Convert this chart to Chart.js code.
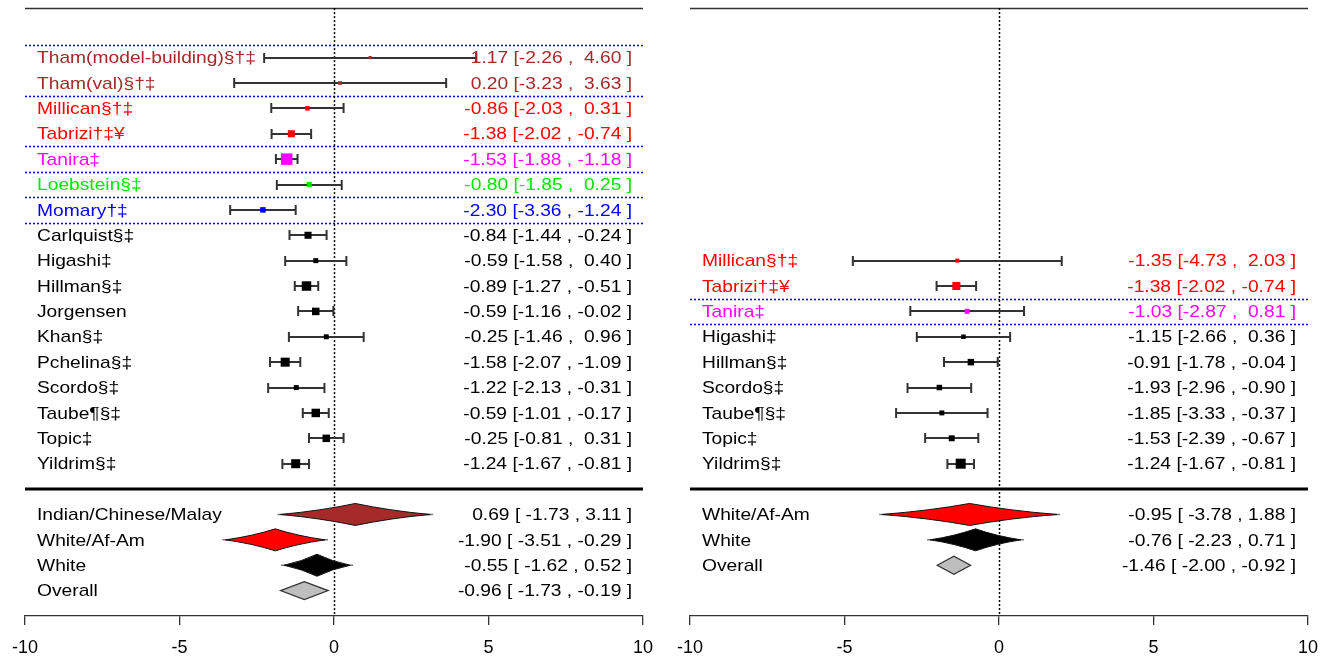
<!DOCTYPE html>
<html>
<head>
<meta charset="utf-8">
<script src="https://cdn.jsdelivr.net/npm/chart.js@4.4.1/dist/chart.umd.min.js"></script>
<style>
body{margin:0;background:#fff;}
#wrap{position:relative;width:1330px;height:662px;}
canvas{position:absolute;top:0;}
</style>
</head>
<body>
<div id="wrap">
<canvas id="left" width="665" height="662" style="left:0"></canvas>
<canvas id="right" width="665" height="662" style="left:665px"></canvas>
</div>
<script>
// ---- left panel: studies ----
const leftStudies = ["Tham(model-building)§†‡","Tham(val)§†‡","Millican§†‡","Tabrizi†‡¥","Tanira‡","Loebstein§‡","Momary†‡",
    "Carlquist§‡","Higashi‡","Hillman§‡","Jorgensen","Khan§‡","Pchelina§‡","Scordo§‡","Taube¶§‡","Topic‡","Yildrim§‡"];
const leftEst = [1.17,0.20,-0.86,-1.38,-1.53,-0.80,-2.30,-0.84,-0.59,-0.89,-0.59,-0.25,-1.58,-1.22,-0.59,-0.25,-1.24];
const leftLo  = [-2.26,-3.23,-2.03,-2.02,-1.88,-1.85,-3.36,-1.44,-1.58,-1.27,-1.16,-1.46,-2.07,-2.13,-1.01,-0.81,-1.67];
const leftHi  = [4.60,3.63,0.31,-0.74,-1.18,0.25,-1.24,-0.24,0.40,-0.51,-0.02,0.96,-1.09,-0.31,-0.17,0.31,-0.81];
const leftWeights = [1.3,1.9,2.8,5.6,10.5,3.3,3.9,5.6,3.3,8.3,6.1,3.3,7.8,3.3,7.2,6.1,7.8];
const leftGroups = ["icm","icm","waa","waa","tan","loe","mom","w","w","w","w","w","w","w","w","w","w"];
const leftBreaks = [-0.5,1.5,3.5,4.5,5.5,6.5];

// ---- left panel: pooled ----
const leftPooled = ["Indian/Chinese/Malay","White/Af-Am","White","Overall"];
const leftPoolEst = [0.69,-1.90,-0.55,-0.96];
const leftPoolLo  = [-1.73,-3.51,-1.62,-1.73];
const leftPoolHi  = [3.11,-0.29,0.52,-0.19];
const leftPoolGroups = ["icm","waa","w","all"];

// ---- right panel: studies ----
const rightStudies = ["Millican§†‡","Tabrizi†‡¥","Tanira‡","Higashi‡","Hillman§‡","Scordo§‡","Taube¶§‡","Topic‡","Yildrim§‡"];
const rightEst = [-1.35,-1.38,-1.03,-1.15,-0.91,-1.93,-1.85,-1.53,-1.24];
const rightLo  = [-4.73,-2.02,-2.87,-2.66,-1.78,-2.96,-3.33,-2.39,-1.67];
const rightHi  = [2.03,-0.74,0.81,0.36,-0.04,-0.90,-0.37,-0.67,-0.81];
const rightWeights = [2.2,6.7,3.3,2.8,5,3.9,3.3,4.4,8.9];
const rightGroups = ["waa","waa","tan","w","w","w","w","w","w"];
const rightBreaks = [9.5,10.5];

// ---- right panel: pooled ----
const rightPooled = ["White/Af-Am","White","Overall"];
const rightPoolEst = [-0.95,-0.76,-1.46];
const rightPoolLo  = [-3.78,-2.23,-2.00];
const rightPoolHi  = [1.88,0.71,-0.92];
const rightPoolGroups = ["waa","w","all"];

const xTicks = [-10,-5,0,5,10];

// styles
const groupColor = {icm:"#A52A2A", waa:"#FF0000", tan:"#FF00FF", loe:"#00E600", mom:"#0000FF", w:"#000000", all:"#BEBEBE"};
const FONT = "17px 'Liberation Sans', Arial, sans-serif";
const SX = 1.13;
const HEAVY_ROW = 17;

function pad(v){ let s = v.toFixed(2); return v >= 0 ? " " + s : s; }

function stretchedText(ctx, str, x, y, align, color){
    ctx.save();
    ctx.translate(x, y);
    ctx.scale(SX, 1);
    ctx.font = FONT;
    ctx.fillStyle = color;
    ctx.textAlign = align;
    ctx.textBaseline = "middle";
    ctx.fillText(str, 0, 0);
    ctx.restore();
}

const forestPlugin = {
    id: "forest",
    beforeDatasetsDraw(chart, args, o){
        const ctx = chart.ctx, a = chart.chartArea, x = chart.scales.x, y = chart.scales.y;
        ctx.save();

        // top rule
        ctx.strokeStyle = "#333"; ctx.lineWidth = 1.5;
        ctx.beginPath(); ctx.moveTo(a.left, a.top + 0.5); ctx.lineTo(a.right, a.top + 0.5); ctx.stroke();

        // blue dotted group breaks
        ctx.strokeStyle = "#0000FF"; ctx.lineWidth = 1.6; ctx.setLineDash([2, 2]);
        o.breaks.forEach(b=>{
            let py = Math.round(y.getPixelForValue(b)) + 0.5;
            ctx.beginPath(); ctx.moveTo(a.left, py); ctx.lineTo(a.right, py); ctx.stroke();
        });

        // zero line
        ctx.strokeStyle = "#000"; ctx.lineWidth = 1.5; ctx.setLineDash([2, 2]);
        let x0 = Math.round(x.getPixelForValue(0)) + 0.5;
        ctx.beginPath(); ctx.moveTo(x0, a.top); ctx.lineTo(x0, a.bottom); ctx.stroke();
        ctx.setLineDash([]);

        // heavy line above pooled rows
        ctx.strokeStyle = "#000"; ctx.lineWidth = 3;
        let hy = y.getPixelForValue(HEAVY_ROW);
        ctx.beginPath(); ctx.moveTo(a.left, hy); ctx.lineTo(a.right, hy); ctx.stroke();

        // confidence intervals
        ctx.strokeStyle = "#333"; ctx.lineWidth = 2;
        o.est.forEach((e, i)=>{
            let py = Math.round(y.getPixelForValue(o.first + i));
            let pl = x.getPixelForValue(o.lo[i]), ph = x.getPixelForValue(o.hi[i]);
            ctx.beginPath();
            ctx.moveTo(pl, py); ctx.lineTo(ph, py);
            ctx.moveTo(pl, py - 5); ctx.lineTo(pl, py + 5);
            ctx.moveTo(ph, py - 5); ctx.lineTo(ph, py + 5);
            ctx.stroke();
        });

        // pooled diamonds
        o.pEst.forEach((e, i)=>{
            let row = HEAVY_ROW + 1 + i;
            let py = y.getPixelForValue(row);
            let pe = x.getPixelForValue(e), pl = x.getPixelForValue(o.pLo[i]), ph = x.getPixelForValue(o.pHi[i]);
            let g = o.pGroups[i];
            ctx.fillStyle = groupColor[g];
            if(g === "all"){
                let h = 9;
                ctx.strokeStyle = "#333"; ctx.lineWidth = 1.3;
                ctx.beginPath();
                ctx.moveTo(pl, py); ctx.lineTo(pe, py - h); ctx.lineTo(ph, py); ctx.lineTo(pe, py + h); ctx.closePath();
                ctx.fill(); ctx.stroke();
            } else {
                let h = 11;
                ctx.strokeStyle = "#777"; ctx.lineWidth = 1.5;
                ctx.beginPath(); ctx.moveTo(pl - 3, py); ctx.lineTo(ph + 3, py); ctx.stroke();
                let cl = pe - (pe - pl) * 0.45, cr = pe + (ph - pe) * 0.45;
                ctx.strokeStyle = "#111"; ctx.lineWidth = 1;
                ctx.beginPath();
                ctx.moveTo(pl, py);
                ctx.quadraticCurveTo(cl, py - h * 0.35, pe, py - h);
                ctx.quadraticCurveTo(cr, py - h * 0.35, ph, py);
                ctx.quadraticCurveTo(cr, py + h * 0.35, pe, py + h);
                ctx.quadraticCurveTo(cl, py + h * 0.35, pl, py);
                ctx.closePath();
                ctx.fill(); ctx.stroke();
            }
        });
        ctx.restore();
    },
    afterDraw(chart, args, o){
        const ctx = chart.ctx, a = chart.chartArea, y = chart.scales.y;
        let lx = a.left + 12, rx = a.right - o.ciGap;
        o.labels.forEach((lab, i)=>{
            let py = y.getPixelForValue(o.first + i) + 1;
            let col = groupColor[o.groups[i]];
            stretchedText(ctx, lab, lx, py, "left", col);
            let s = o.est[i].toFixed(2) + " [" + pad(o.lo[i]) + " , " + pad(o.hi[i]) + " ]";
            stretchedText(ctx, s, rx, py, "right", col);
        });
        o.pLabels.forEach((lab, i)=>{
            let py = y.getPixelForValue(HEAVY_ROW + 1 + i) + 1;
            stretchedText(ctx, lab, lx, py, "left", "#000");
            let s = o.pEst[i].toFixed(2) + " [ " + o.pLo[i].toFixed(2) + " , " + o.pHi[i].toFixed(2) + " ]";
            stretchedText(ctx, s, rx, py, "right", "#000");
        });
    }
};

function makePanel(id, labels, est, lo, hi, weights, groups, breaks, pLabels, pEst, pLo, pHi, pGroups, padL, padR, ciGap){
    let first = HEAVY_ROW - labels.length;
    let pts = est.map((e, i)=>({x: e, y: first + i}));
    let radii = weights.map(w=>(2 + w * 0.9) / Math.SQRT2);
    let cols = groups.map(g=>groupColor[g]);
    return new Chart(document.getElementById(id), {
        type: "scatter",
        data: {datasets: [{
            data: pts,
            pointStyle: "rect",
            pointRadius: radii,
            pointHoverRadius: radii,
            pointBackgroundColor: cols,
            pointBorderColor: cols,
            pointBorderWidth: 0
        }]},
        options: {
            responsive: false,
            animation: false,
            events: [],
            layout: {padding: {left: padL, right: padR, top: 8, bottom: 0}},
            scales: {
                x: {
                    type: "linear", min: -10, max: 10,
                    afterBuildTicks: s=>{ s.ticks = xTicks.map(v=>({value: v})); },
                    afterFit: s=>{ s.height = 46; },
                    border: {display: true, color: "#333", width: 1.3},
                    grid: {display: true, drawOnChartArea: false, drawTicks: true, tickLength: 9, color: "#333", lineWidth: 1.3},
                    ticks: {color: "#000", padding: 12, font: {family: "'Liberation Sans', Arial, sans-serif", size: 18}, maxRotation: 0}
                },
                y: {type: "linear", min: -1.95, max: 22, reverse: true, display: false}
            },
            plugins: {
                legend: {display: false},
                tooltip: {enabled: false},
                forest: {labels, est, lo, hi, groups, breaks, first, pLabels, pEst, pLo, pHi, pGroups, ciGap}
            }
        },
        plugins: [forestPlugin]
    });
}

makePanel("left", leftStudies, leftEst, leftLo, leftHi, leftWeights, leftGroups, leftBreaks,
    leftPooled, leftPoolEst, leftPoolLo, leftPoolHi, leftPoolGroups, 22, 22, 11);
makePanel("right", rightStudies, rightEst, rightLo, rightHi, rightWeights, rightGroups, rightBreaks,
    rightPooled, rightPoolEst, rightPoolLo, rightPoolHi, rightPoolGroups, 24, 20, 12);
</script>
</body>
</html>
